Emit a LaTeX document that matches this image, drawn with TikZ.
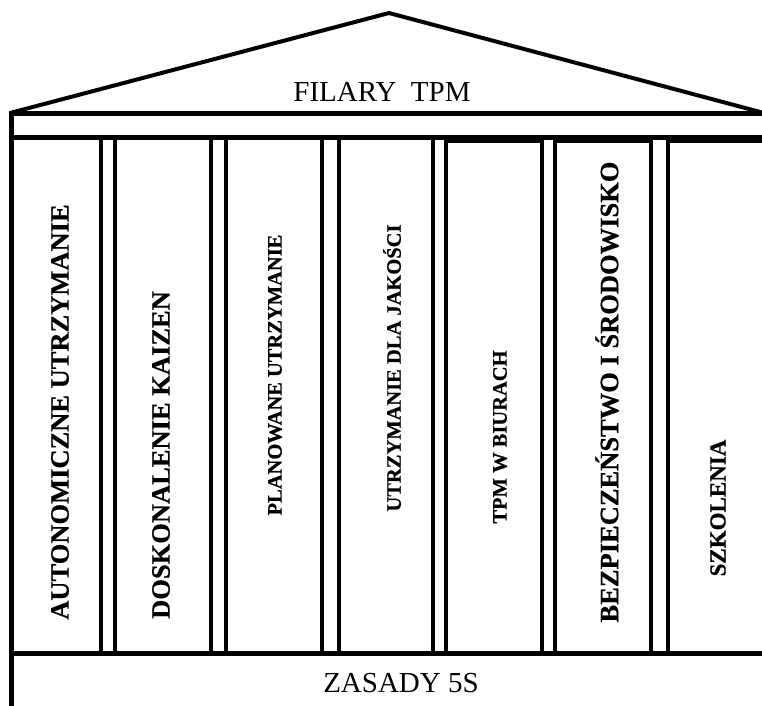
\documentclass[tikz,border=0pt]{standalone}
\usepackage{fontspec}
\setmainfont{Liberation Serif}
\newfontfamily\pillarfont{Liberation Serif Bold}[FakeBold=0.6]
\begin{document}
\begin{tikzpicture}[x=1pt,y=-1pt,
  roofline/.style={line width=4pt, line join=miter},
  beamline/.style={line width=5pt},
  pillarbox/.style={line width=4.5pt},
  biglabel/.style={rotate=90, inner sep=0pt, font=\pillarfont\fontsize{26.5}{30}\selectfont},
  midlabel/.style={rotate=90, inner sep=0pt, font=\pillarfont\fontsize{23}{26}\selectfont},
  smalllabel/.style={rotate=90, inner sep=0pt, font=\pillarfont\fontsize{20.5}{24}\selectfont},
  plainlabel/.style={inner sep=0pt, font=\fontsize{29}{32}\selectfont}]
\useasboundingbox (0,0) rectangle (762,705);

% roof and architrave
\coordinate (roofL) at (10,113);
\coordinate (apex) at (389,13);
\coordinate (roofR) at (764,113);
\draw[roofline] (roofL) -- (apex) -- (roofR);
\draw[beamline] (roofL) -- (roofR);
\coordinate (beamL) at (11,137.5);
\coordinate (beamR) at (764,137.5);
\draw[beamline] (beamL) -- (beamR);

% base and left edge
\coordinate (baseL) at (11,653);
\coordinate (baseR) at (764,653);
\draw[beamline] (baseL) -- (baseR);
\coordinate (edgeT) at (11,111);
\coordinate (edgeB) at (11,707);
\draw[beamline] (edgeT) -- (edgeB);

% pillars
\draw[pillarbox] (11,137) rectangle (101,653);
\draw[pillarbox] (115,137) rectangle (211,653);
\draw[pillarbox] (226,137) rectangle (322,653);
\draw[pillarbox] (339,137) rectangle (433,653);
\draw[pillarbox] (446,141) rectangle (542,653);
\draw[pillarbox] (555,141) rectangle (651,653);
\draw[pillarbox] (668,141) -- (766,141);
\draw[pillarbox] (668,137) -- (668,653);

% labels
\node[plainlabel] (roof) at (382,92) {FILARY\ \ TPM};
\node[plainlabel] (base) at (401,683) {ZASADY 5S};
\node[biglabel] (p1) at (60,412) {AUTONOMICZNE UTRZYMANIE};
\node[biglabel] (p2) at (161,455) {DOSKONALENIE KAIZEN};
\node[smalllabel] (p3) at (275,375) {PLANOWANE UTRZYMANIE};
\node[smalllabel] (p4) at (392,368) {UTRZYMANIE DLA JAKOŚCI};
\node[smalllabel] (p5) at (500,437) {TPM W BIURACH};
\node[biglabel] (p6) at (607,392) {BEZPIECZEŃSTWO I ŚRODOWISKO};
\node[midlabel] (p7) at (718,508) {SZKOLENIA};
\end{tikzpicture}
\end{document}
